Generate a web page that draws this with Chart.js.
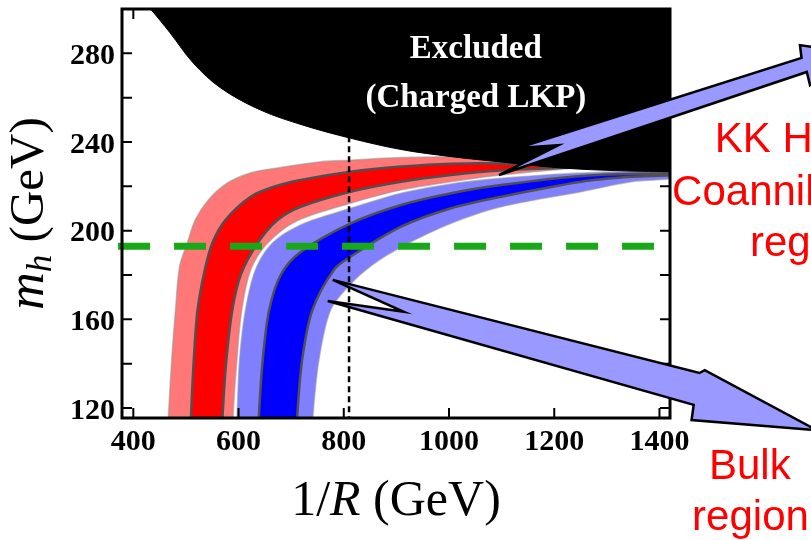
<!DOCTYPE html>
<html lang="en">
<head>
<meta charset="utf-8">
<title>KK Higgs coannihilation and bulk regions</title>
<script src="https://cdn.jsdelivr.net/npm/chart.js@4.4.1/dist/chart.umd.min.js"></script>
<style>
    html, body { margin: 0; padding: 0; background: #fff; }
    canvas { display: block; }
</style>
</head>
<body>
<canvas id="relicChart" width="811" height="540"></canvas>
<script>
// ============================================
// DATA  (x = 1/R in GeV, y = m_h in GeV)
// ============================================
const xTicks = [400, 600, 800, 1000, 1200, 1400];
const yTicks = [120, 140, 160, 180, 200, 220, 240, 260, 280];
const yLabelStep = 40;

// band edges, listed from below the plot up to the tip
const lightRedUpper = [[465, 108], [467, 118], [473, 142], [480, 164], [488, 184], [502, 194], [518, 205], [543, 214],
    [578, 221.4], [622, 226], [667, 228], [756, 231.1], [813, 231.8], [909, 233], [1036, 233.3], [1137, 231.7], [1240, 228.8]];
const darkRedUpper = [[509, 108], [510, 118], [515, 142], [522, 164], [535, 181.4], [550, 194.3], [575, 204.8], [623, 215.3],
    [667, 219.8], [718, 222.9], [813, 226.6], [909, 228.9], [1004, 230.2], [1099, 230.3], [1240, 228.8]];
const darkRedLower = [[569, 108], [570, 118], [577, 142], [588, 164], [604, 180], [636, 194.3], [674, 204.8], [718, 210.8],
    [813, 217.6], [909, 222.1], [1004, 225.1], [1099, 227.1], [1240, 228.6]];
const lightRedLower = [[589, 108], [590, 118], [597, 142], [606, 164], [623, 182.3], [655, 194.3], [710, 204.3],
    [813, 212.4], [909, 218.4], [1004, 222.1], [1099, 225.1], [1240, 228.4]];

const lightBlueUpper = [[597, 108], [597.5, 118], [602, 142], [613, 164], [632, 182.3], [664, 194.3], [718, 202.6],
    [813, 210.1], [909, 216.9], [1004, 221.1], [1099, 223.6], [1251, 226], [1430, 226.7]];
const darkBlueUpper = [[638, 108], [639, 118], [646, 142], [658, 164], [680, 180], [718, 190.4], [813, 203.3],
    [909, 211.6], [1004, 216.9], [1099, 220.6], [1251, 224.7], [1430, 225.9]];
const darkBlueLower = [[711, 108], [712, 118], [721, 142], [740, 164], [781, 182.3], [813, 188.3], [909, 201.8],
    [1004, 210.1], [1099, 215.3], [1251, 222.1], [1347, 224.3], [1430, 225.1]];
const lightBlueLower = [[741, 108], [742, 118], [753, 142], [775, 164.2], [813, 175.9], [851, 184], [909, 192.6],
    [1004, 203.3], [1099, 210.8], [1251, 217.6], [1347, 222.1], [1430, 223.8]];

// lower edge of the charged-LKP excluded region
const excludedEdge = [[428, 301], [432, 300.2], [470, 289.2], [514, 275.6], [566, 264.4], [642, 254.4], [724, 247.5],
    [813, 241.7], [909, 236.6], [1004, 233.4], [1099, 231], [1213, 228.3], [1328, 227], [1430, 226.6]];

const higgsLimit = 193;            // green dashed line
const higgsLimitRange = [371, 1394];
const radiusLimit = 810;           // dotted vertical line

// callout arrows (outline vertices, same units as the axes)
const coannArrow = [[1131, 237.3], [1670, 277.9], [1667, 283.7], [1756, 280.6], [1686, 265.7], [1680, 271.6],
    [1095, 225.1], [1208, 238.6]];
const bulkArrow = [[769.5, 168.3], [1465, 121.4], [1461, 114.6], [1699, 110], [1486, 137.1], [1476, 135.8],
    [779, 177.8], [914, 163.4]];

// region labels: text, left edge, baseline (axis units)
const regionLabels = [
    ['KK Higgs', 1505, 235.5],
    ['Coannihilation', 1424, 211.6],
    ['region', 1572, 188.6],
    ['Bulk', 1494, 88],
    ['region', 1462, 65]
];

const toPoints = pts => pts.map(([x, y]) => ({ x, y }));
const band = (upper, lower) => toPoints(upper.concat(lower.slice().reverse()));

// ============================================
// PLUGINS
// ============================================
const serif = '"Liberation Serif", "Times New Roman", serif';
const sans = '"Liberation Sans", Arial, sans-serif';

function drawPieces(ctx, pieces, cx, baseline) {
    let total = 0;
    pieces.forEach(p => {
        ctx.font = p.font;
        p.w = ctx.measureText(p.text).width;
        total += p.w;
    });
    let cur = cx - total / 2;
    ctx.textAlign = 'left';
    pieces.forEach(p => {
        ctx.font = p.font;
        ctx.fillText(p.text, cur, baseline + (p.dy || 0));
        cur += p.w;
    });
}

// box frame with inward ticks on all four sides, plus the label inside the excluded area
const frameTicks = {
    id: 'frameTicks',
    afterDatasetsDraw(chart) {
        const { ctx, chartArea: a, scales: { x, y } } = chart;
        ctx.save();
        ctx.strokeStyle = '#000';
        ctx.lineWidth = 2;
        ctx.beginPath();
        xTicks.forEach(v => {
            const px = x.getPixelForValue(v);
            ctx.moveTo(px, a.bottom); ctx.lineTo(px, a.bottom - 10);
            ctx.moveTo(px, a.top); ctx.lineTo(px, a.top + 10);
        });
        yTicks.forEach(v => {
            const py = y.getPixelForValue(v);
            ctx.moveTo(a.left, py); ctx.lineTo(a.left + 10, py);
            ctx.moveTo(a.right, py); ctx.lineTo(a.right - 10, py);
        });
        ctx.stroke();
        ctx.lineWidth = 3;
        ctx.strokeRect(a.left, a.top, a.right - a.left, a.bottom - a.top);

        ctx.fillStyle = '#fff';
        ctx.textAlign = 'center';
        ctx.font = 'bold 33px ' + serif;
        ctx.fillText('Excluded', x.getPixelForValue(1051), y.getPixelForValue(277.9));
        ctx.fillText('(Charged LKP)', x.getPixelForValue(1051), y.getPixelForValue(255.8));
        ctx.restore();
    }
};

// arrows, region labels and axis titles
const annotations = {
    id: 'annotations',
    afterDraw(chart) {
        const { ctx, chartArea: a, scales: { x, y } } = chart;
        ctx.save();

        [coannArrow, bulkArrow].forEach(arrow => {
            ctx.beginPath();
            arrow.forEach(([vx, vy], i) => {
                const px = x.getPixelForValue(vx), py = y.getPixelForValue(vy);
                if (i) ctx.lineTo(px, py); else ctx.moveTo(px, py);
            });
            ctx.closePath();
            ctx.fillStyle = '#9999ff';
            ctx.fill();
            ctx.lineWidth = 2.5;
            ctx.lineJoin = 'miter';
            ctx.strokeStyle = '#000';
            ctx.stroke();
        });

        ctx.fillStyle = '#ff0000';
        ctx.textAlign = 'left';
        ctx.font = '42px ' + sans;
        regionLabels.forEach(([text, vx, vy]) => {
            ctx.fillText(text, x.getPixelForValue(vx), y.getPixelForValue(vy));
        });

        // axis titles
        ctx.fillStyle = '#000';
        drawPieces(ctx, [
            { text: '1/', font: '50px ' + serif },
            { text: 'R', font: 'italic 50px ' + serif },
            { text: ' (GeV)', font: '50px ' + serif }
        ], (a.left + a.right) / 2, a.bottom + 97);

        ctx.translate(43, (a.top + a.bottom) / 2);
        ctx.rotate(-Math.PI / 2);
        drawPieces(ctx, [
            { text: 'm', font: 'italic 52px ' + serif },
            { text: 'h', font: 'italic 35px ' + serif, dy: 8 },
            { text: ' (GeV)', font: '49px ' + serif }
        ], 0, 0);
        ctx.restore();
    }
};

// ============================================
// CHART
// ============================================
document.addEventListener('DOMContentLoaded', () => {
    const ctx = document.getElementById('relicChart');
    const tickFont = { family: serif, weight: 'bold', size: 30 };

    new Chart(ctx, {
        type: 'line',
        data: {
            datasets: [
                {
                    data: band(lightRedUpper, lightRedLower),
                    fill: 'shape',
                    backgroundColor: '#ff7777',
                    borderColor: 'rgba(150, 150, 150, 0.55)',
                    borderWidth: 1.5,
                    tension: 0.3,
                    order: 10
                },
                {
                    data: band(darkRedUpper, darkRedLower),
                    fill: 'shape',
                    backgroundColor: '#ff0000',
                    borderColor: '#505050',
                    borderWidth: 2.5,
                    tension: 0.3,
                    order: 9
                },
                {
                    data: band(lightBlueUpper, lightBlueLower),
                    fill: 'shape',
                    backgroundColor: '#8080ff',
                    borderColor: 'rgba(150, 150, 150, 0.55)',
                    borderWidth: 1.5,
                    tension: 0.3,
                    order: 8
                },
                {
                    data: band(darkBlueUpper, darkBlueLower),
                    fill: 'shape',
                    backgroundColor: '#0000ff',
                    borderColor: '#505050',
                    borderWidth: 2.5,
                    tension: 0.3,
                    order: 7
                },
                {
                    data: [{ x: radiusLimit, y: 100 }, { x: radiusLimit, y: 300 }],
                    borderColor: '#000',
                    borderWidth: 2.5,
                    borderDash: [6, 4],
                    fill: false,
                    order: 6
                },
                {
                    data: toPoints(excludedEdge),
                    fill: 'end',
                    backgroundColor: '#000',
                    borderColor: '#000',
                    borderWidth: 1,
                    tension: 0.35,
                    order: 5
                },
                {
                    data: higgsLimitRange.map(v => ({ x: v, y: higgsLimit })),
                    borderColor: '#18a818',
                    borderWidth: 7,
                    borderDash: [32, 24],
                    fill: false,
                    clip: false,
                    order: 4
                }
            ]
        },
        options: {
            responsive: false,
            animation: false,
            devicePixelRatio: 1,
            layout: { padding: { left: 0, top: 9, right: 141, bottom: 0 } },
            elements: {
                point: { radius: 0, hoverRadius: 0 },
                line: { capBezierPoints: false }
            },
            plugins: {
                legend: { display: false },
                tooltip: { enabled: false }
            },
            scales: {
                x: {
                    type: 'linear',
                    min: 378.5,
                    max: 1420,
                    afterBuildTicks: s => { s.ticks = xTicks.map(v => ({ value: v })); },
                    afterFit: s => { s.height = 122; s.paddingLeft = 0; s.paddingRight = 0; },
                    grid: { display: false, drawTicks: false },
                    border: { display: false },
                    ticks: {
                        color: '#000',
                        font: tickFont,
                        padding: 6,
                        maxRotation: 0,
                        autoSkip: false,
                        callback: v => String(v)
                    }
                },
                y: {
                    type: 'linear',
                    min: 115.5,
                    max: 300,
                    afterBuildTicks: s => { s.ticks = yTicks.map(v => ({ value: v })); },
                    afterFit: s => { s.width = 122; s.paddingTop = 0; s.paddingBottom = 0; },
                    grid: { display: false, drawTicks: false },
                    border: { display: false },
                    ticks: {
                        color: '#000',
                        font: tickFont,
                        padding: 7,
                        labelOffset: 3,
                        autoSkip: false,
                        callback: v => (v % yLabelStep === 0 ? String(v) : '')
                    }
                }
            }
        },
        plugins: [frameTicks, annotations]
    });
});
</script>
</body>
</html>
